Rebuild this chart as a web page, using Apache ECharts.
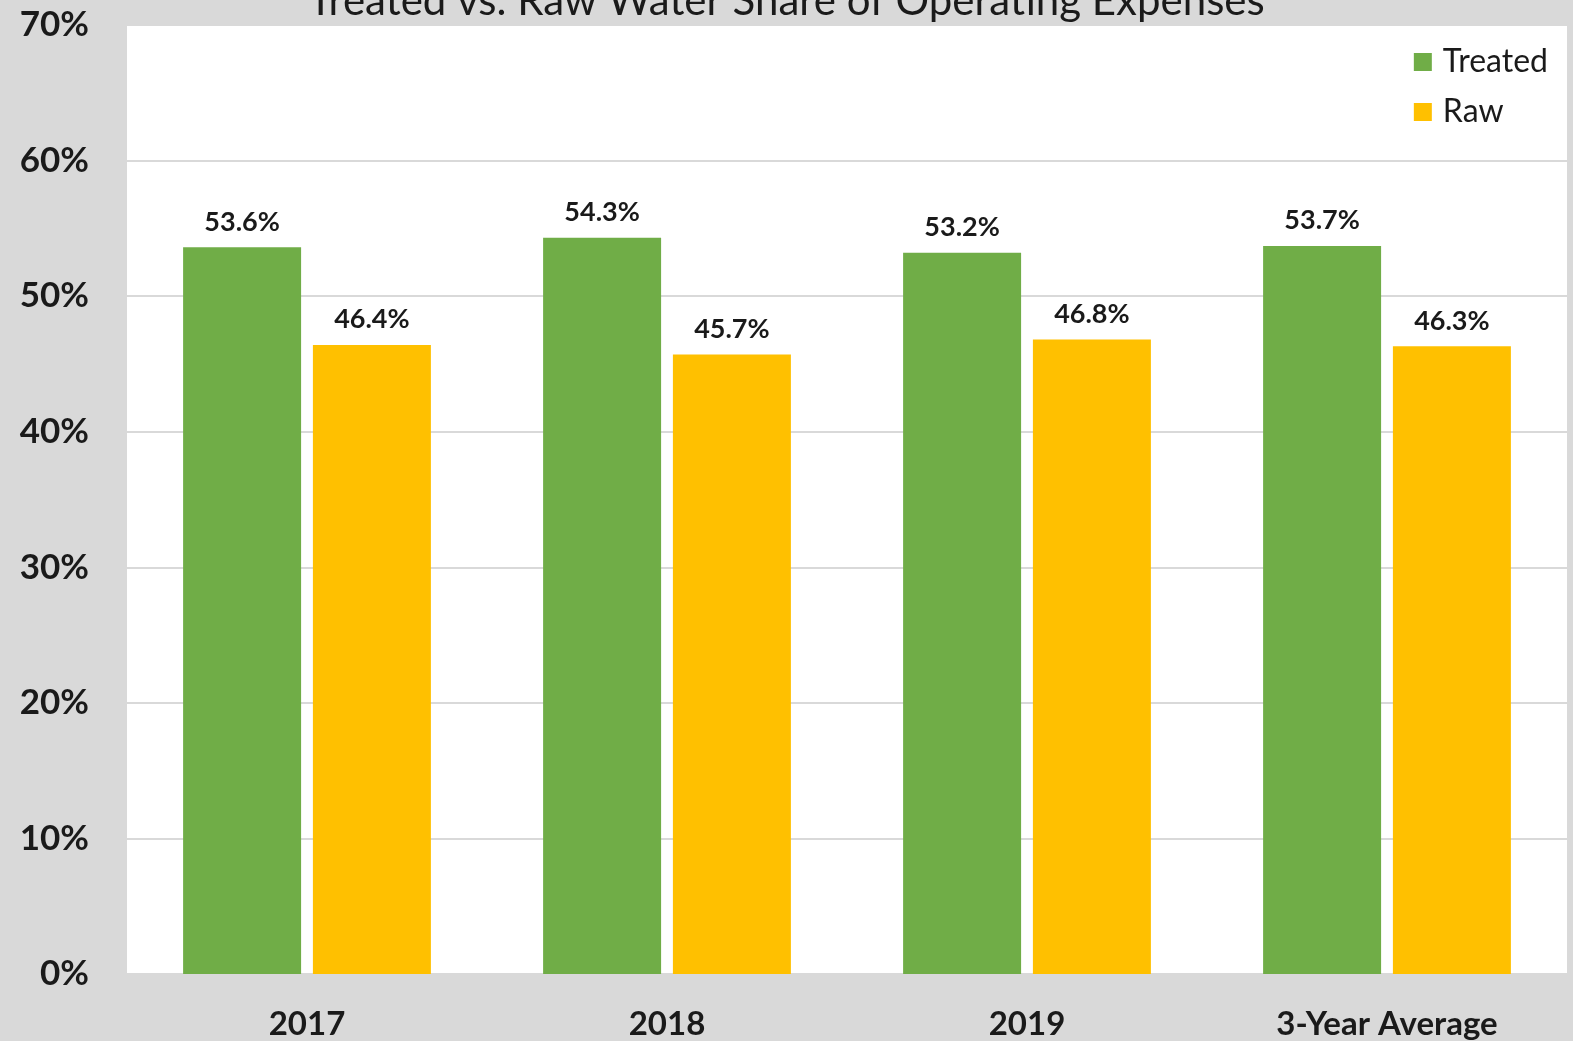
<!DOCTYPE html>
<html>
<head>
<meta charset="utf-8">
<script src="https://cdn.jsdelivr.net/npm/echarts@6/dist/echarts.min.js"></script>
<style>
html, body { margin: 0; padding: 0; background: #d9d9d9; }
#main { width: 1573px; height: 1041px; }
</style>
</head>
<body>
<div id="main"></div>
<script>
var categories = ['2017', '2018', '2019', '3-Year Average'];
var treated = [53.6, 54.3, 53.2, 53.7];
var raw = [46.4, 45.7, 46.8, 46.3];
var yTicks = [0, 10, 20, 30, 40, 50, 60, 70];

var myChart = echarts.init(document.getElementById('main'));

// label style shared by both series
var barLabel = {
	show: true,
	position: 'top',
	distance: 12,
	color: '#1a1a1a',
	fontFamily: 'Lato',
	fontWeight: 'bold',
	fontSize: 27,
	formatter: function (p) { return p.value.toFixed(1) + '%'; }
};

var option = {
	backgroundColor: '#d9d9d9',
	title: {
		text: 'Treated vs. Raw Water Share of Operating Expenses',
		left: 'center',
		top: -25,
		textStyle: { fontFamily: 'Lato', fontWeight: 'normal', fontSize: 42, color: '#1a1a1a' }
	},
	legend: {
		data: ['Treated', 'Raw'],
		orient: 'vertical',
		right: 20,
		top: 41,
		itemWidth: 18,
		itemHeight: 18,
		itemGap: 18,
		icon: 'rect',
		textStyle: { fontFamily: 'Lato', fontSize: 32, color: '#1a1a1a', padding: [0, 0, 0, 6] }
	},
	grid: {
		left: 127,
		right: 6,
		top: 25,
		bottom: 66,
		show: true,
		backgroundColor: '#ffffff',
		borderWidth: 0
	},
	xAxis: {
		type: 'category',
		data: categories,
		axisLine: { show: false },
		axisTick: { show: false },
		axisLabel: {
			margin: 34,
			color: '#1a1a1a',
			fontFamily: 'Lato',
			fontWeight: 'bold',
			fontSize: 33
		}
	},
	yAxis: {
		type: 'value',
		min: yTicks[0],
		max: yTicks[yTicks.length - 1],
		interval: 10,
		axisLine: { show: false },
		axisTick: { show: false },
		splitLine: { lineStyle: { color: '#d9d9d9', width: 2 } },
		axisLabel: {
			margin: 38,
			color: '#1a1a1a',
			fontFamily: 'Lato',
			fontWeight: 'bold',
			fontSize: 35,
			formatter: '{value}%'
		}
	},
	series: [
		{
			name: 'Treated',
			type: 'bar',
			data: treated,
			barWidth: 118,
			barGap: '10%',
			itemStyle: { color: '#70ad47' },
			label: barLabel
		},
		{
			name: 'Raw',
			type: 'bar',
			data: raw,
			barWidth: 118,
			itemStyle: { color: '#ffc000' },
			label: barLabel
		}
	]
};

myChart.setOption(option);
</script>
</body>
</html>
